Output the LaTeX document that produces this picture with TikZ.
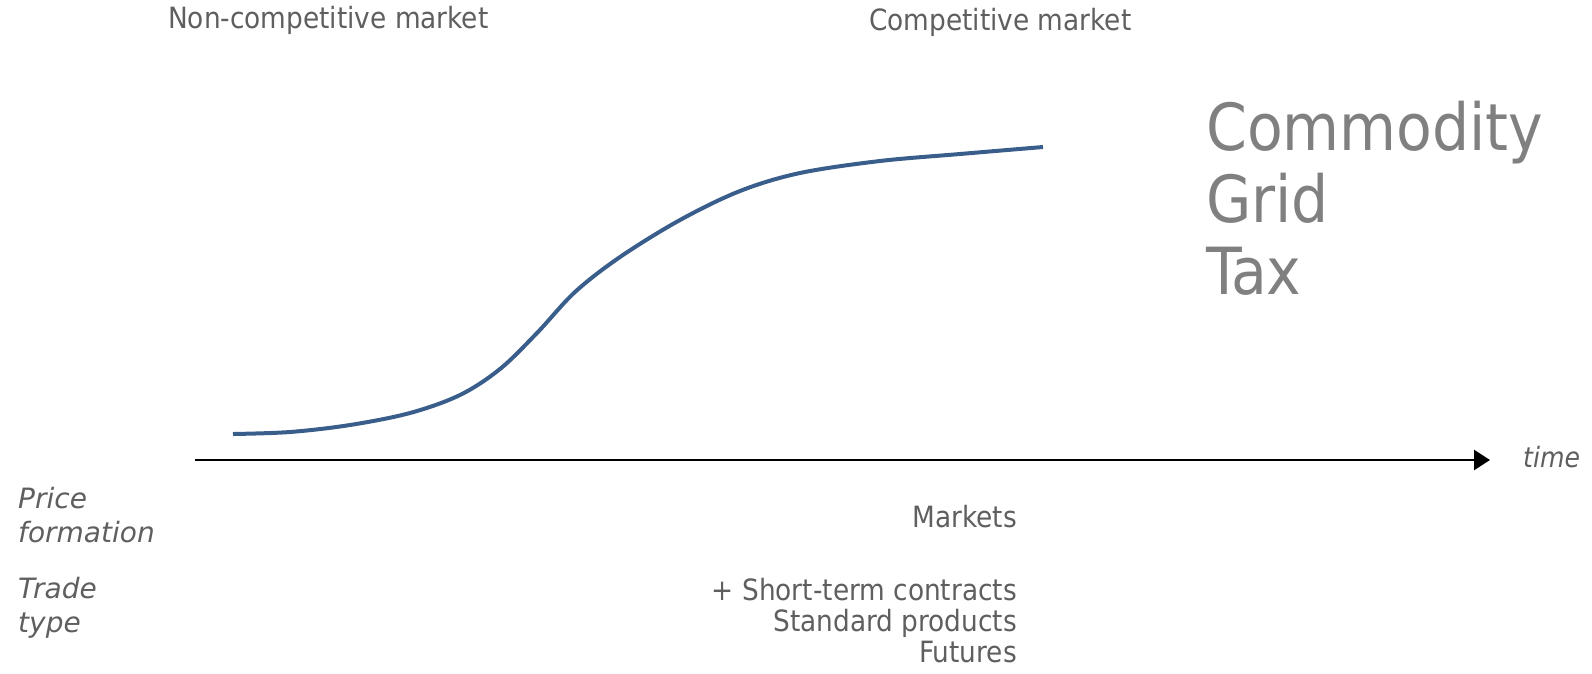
\documentclass[tikz,border=0pt]{standalone}
\usepackage{fontspec}
\setmainfont{DejaVu Sans Condensed}
\newfontfamily\widefam{DejaVu Sans}
\usetikzlibrary{arrows.meta,positioning}
\definecolor{txtclr}{RGB}{95,95,95}
\definecolor{bigclr}{RGB}{128,128,128}
\definecolor{curveclr}{RGB}{58,94,140}
\tikzset{
  lbl/.style={font=\fontsize{29.3}{31}\selectfont,text=txtclr,inner sep=0pt},
  ilbl/.style={lbl,font=\fontsize{28}{31}\selectfont\itshape},
  rowlbl/.style={lbl,font=\widefam\fontsize{28}{31}\selectfont\itshape},
  bigword/.style={font=\fontsize{65}{72}\selectfont,text=bigclr,inner sep=0pt},
  axisarr/.style={-{Triangle[length=16pt,width=20pt]},line width=2.5pt,black},
  scurve/.style={line width=4pt,color=curveclr,line cap=butt},
}

\begin{document}
\begin{tikzpicture}[x=1pt,y=-1pt]
  \useasboundingbox (0,0) rectangle (1592,673);

  % headings
  \node[lbl,anchor=base west] (noncomp) at (168,28) {Non-competitive market};
  \node[lbl,anchor=base west] (comp)    at (869,30) {Competitive market};

  % big words on the right
  \node[bigword,anchor=base west] (comm) at (1206,150) {Commodity};
  \node[bigword,anchor=base west] (grid) at ([yshift=-72pt]comm.base west) {Grid};
  \node[bigword,anchor=base west] (tax)  at ([yshift=-72pt]grid.base west) {Tax};

  % time axis
  \coordinate (tstart) at (195,460);
  \coordinate (tend)   at (1490,460);
  \draw[axisarr] (tstart) -- (tend);
  \node[ilbl,anchor=base west] (time) at (1523,467) {time};

  % s-curve
  \draw[scurve] plot[smooth,tension=0.55] coordinates {
    (233,434) (290,432) (350,425) (410,413) (460,395) (500,369) (537,333)
    (575,292) (620,257) (680,220) (740,191) (800,173) (880,161) (960,154)
    (1043,147)};

  % row labels
  \node[rowlbl,anchor=base west] (price) at (18,508) {Price};
  \node[rowlbl,anchor=base west] (form)  at ([yshift=-34pt]price.base west) {formation};
  \node[rowlbl,anchor=base west] (trade) at (18,598) {Trade};
  \node[rowlbl,anchor=base west] (ttype) at ([yshift=-34pt]trade.base west) {type};

  % row entries
  \node[lbl,anchor=base east] (mkts) at (1017,527) {Markets};
  \node[lbl,anchor=base east] (shrt) at (1017,600) {+ Short-term contracts};
  \node[lbl,anchor=base east] (stdp) at ([yshift=-31pt]shrt.base east) {Standard products};
  \node[lbl,anchor=base east] (futs) at ([yshift=-31pt]stdp.base east) {Futures};

\end{tikzpicture}
\end{document}
